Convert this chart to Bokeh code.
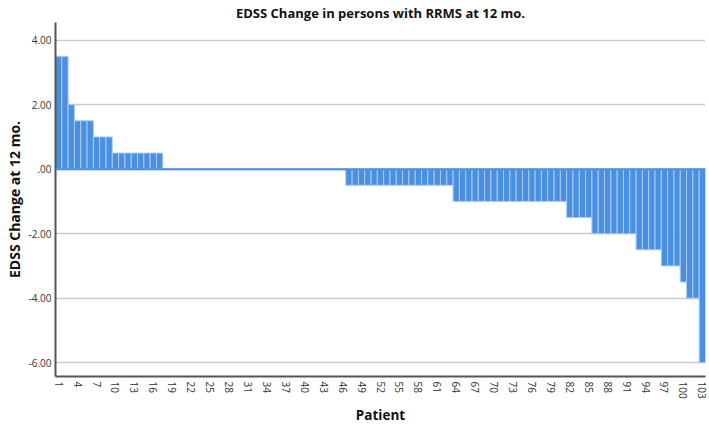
import math
from bokeh.plotting import figure
from bokeh.models import Range1d, FixedTicker, Span, Title
from bokeh.embed import file_html
from bokeh.resources import INLINE

# ---- data ----
patients = list(range(1, 104))
edss_change = (
    [3.5] * 2 + [2.0] * 1 + [1.5] * 3 + [1.0] * 3 + [0.5] * 8 +
    [0.0] * 29 +
    [-0.5] * 17 + [-1.0] * 18 + [-1.5] * 4 + [-2.0] * 7 + [-2.5] * 4 +
    [-3.0] * 3 + [-3.5] * 1 + [-4.0] * 2 + [-6.0] * 1
)
x_ticks = list(range(1, 104, 3))
y_ticks = [4, 2, 0, -2, -4, -6]
y_tick_labels = ["4.00", "2.00", ".00", "-2.00", "-4.00", "-6.00"]

title_text = "EDSS Change in persons with RRMS at 12 mo."
x_title = "Patient"
y_title = "EDSS Change at 12 mo."

BLUE = "#4a90e2"
FONT = "Open Sans"

p = figure(width=709, height=426, output_backend="svg", toolbar_location=None,
           x_range=Range1d(0.5, 103.5), y_range=Range1d(-6.43, 4.55),
           min_border_left=55, min_border_right=4, min_border_top=22,
           min_border_bottom=48)
p.outline_line_color = None
p.background_fill_color = "white"

p.add_layout(Title(text=title_text, align="center", offset=-22,
                   text_font=FONT, text_font_size="13px", text_font_style="bold",
                   text_color="#111111", standoff=2), "above")

p.vbar(x=patients, top=edss_change, bottom=0, width=1.0,
       fill_color=BLUE, line_color="#a9cbf2", line_width=1)
p.add_layout(Span(location=0, dimension="width", line_color=BLUE, line_width=2))

# axes
p.xaxis.ticker = FixedTicker(ticks=x_ticks)
p.xaxis.major_label_orientation = -math.pi / 2
p.xaxis.major_tick_out = 0
p.xaxis.major_tick_in = 0
p.xaxis.minor_tick_out = 0
p.xaxis.minor_tick_in = 0
p.xaxis.major_label_standoff = 5
p.xaxis.major_label_text_font = FONT
p.xaxis.major_label_text_font_size = "10px"
p.xaxis.major_label_text_color = "#333333"
p.xaxis.axis_line_color = "#555555"
p.xaxis.axis_line_width = 2
p.xaxis.axis_label = x_title
p.xaxis.axis_label_text_font = FONT
p.xaxis.axis_label_text_font_size = "13.5px"
p.xaxis.axis_label_text_font_style = "bold"
p.xaxis.axis_label_text_color = "#111111"
p.xaxis.axis_label_text_baseline = "top"
p.xaxis.axis_label_standoff = 4

p.yaxis.ticker = FixedTicker(ticks=y_ticks)
p.yaxis.major_label_overrides = {t: s for t, s in zip(y_ticks, y_tick_labels)}
p.yaxis.major_tick_out = 0
p.yaxis.major_tick_in = 0
p.yaxis.minor_tick_out = 0
p.yaxis.minor_tick_in = 0
p.yaxis.major_label_standoff = 4
p.yaxis.major_label_text_font = FONT
p.yaxis.major_label_text_font_size = "10px"
p.yaxis.major_label_text_color = "#333333"
p.yaxis.axis_line_color = "#555555"
p.yaxis.axis_line_width = 2
p.yaxis.axis_label = y_title
p.yaxis.axis_label_text_font = FONT
p.yaxis.axis_label_text_font_size = "14px"
p.yaxis.axis_label_text_font_style = "bold"
p.yaxis.axis_label_text_color = "#111111"
p.yaxis.axis_label_standoff = 2

p.xgrid.grid_line_color = None
p.ygrid.ticker = FixedTicker(ticks=y_ticks)
p.ygrid.grid_line_color = "#cccccc"
p.ygrid.grid_line_width = 1.5

open("out.html", "w").write(file_html(p, INLINE))
